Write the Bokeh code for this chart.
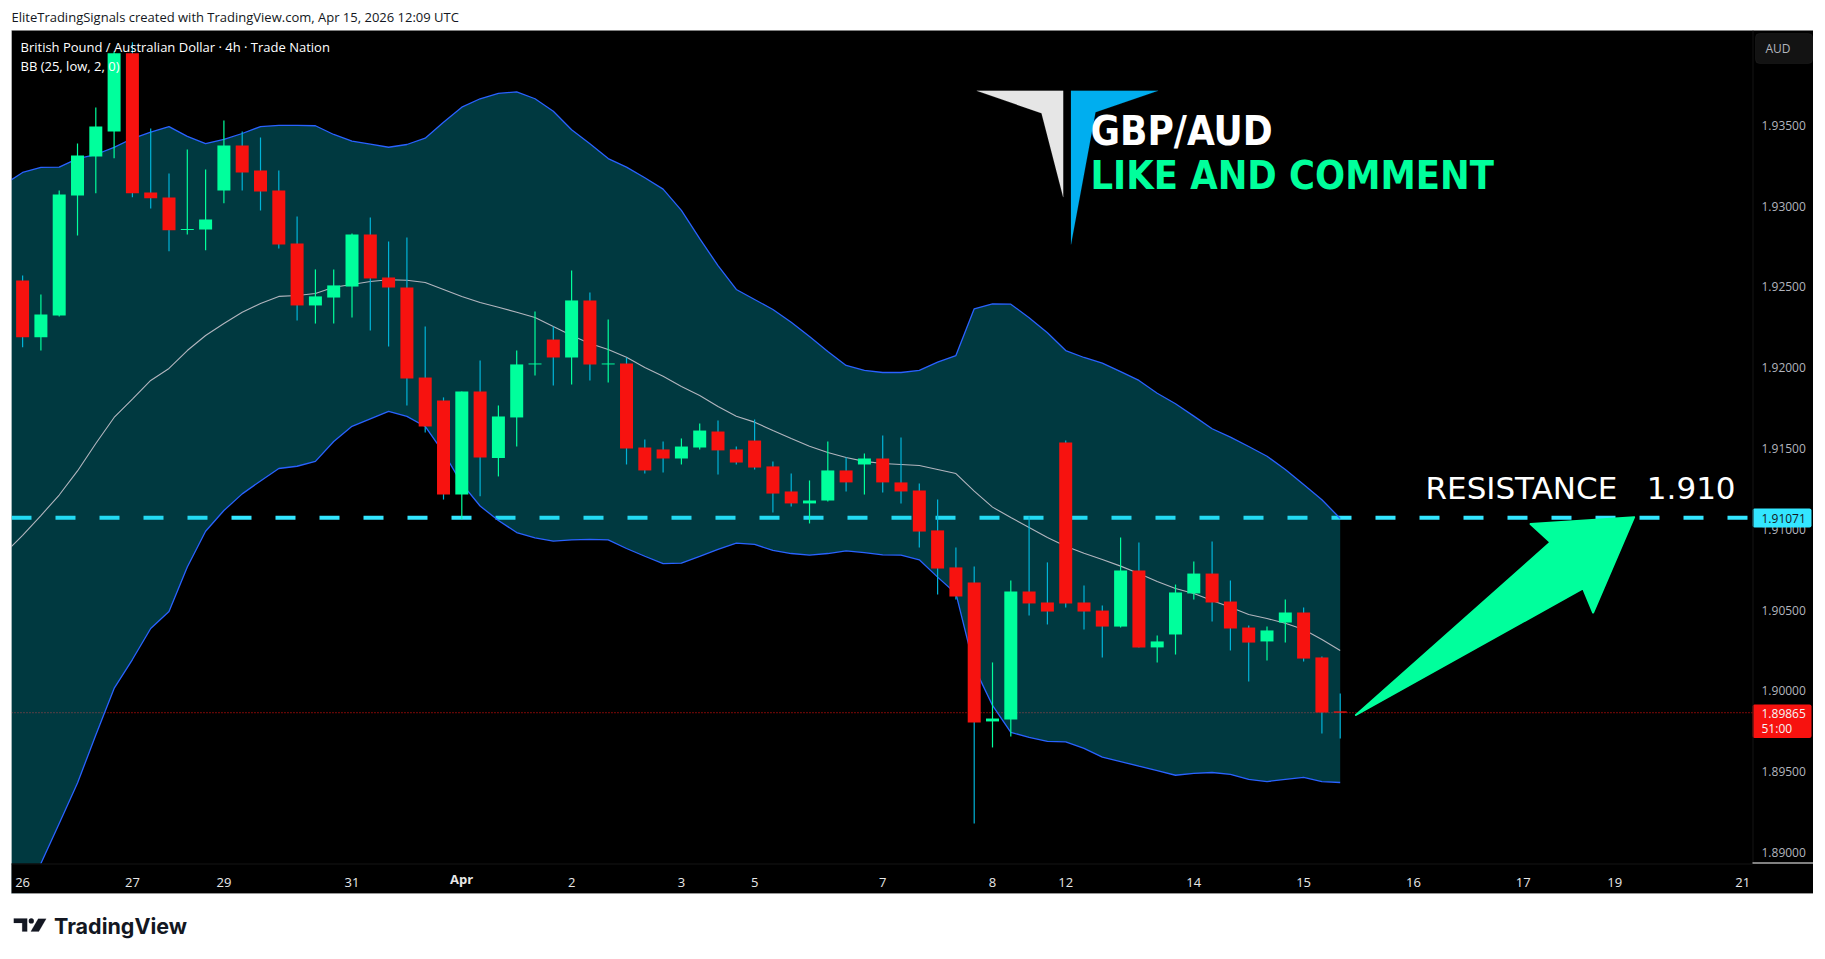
#GBP/AUD 4h candles with bollinger bands, drawn on a dark chart like the tradingview snapshot
from bokeh.plotting import figure
from bokeh.models import Label, BoxAnnotation, PolyAnnotation, FixedTicker, NumeralTickFormatter
from bokeh.embed import file_html
from bokeh.resources import INLINE

# candle values
opens = [1.92540,1.92189,1.92323,1.93066,1.93307,1.93462,1.93946,1.93084,1.93053,1.92852,1.92855,1.93096,1.93375,1.93220,1.93096,1.92768,1.92385,1.92434,1.92502,1.92824,1.92558,1.92496,1.91939,1.91797,1.91215,1.91853,1.91441,1.91692,1.92020,1.92174,1.92063,1.92416,1.92020,1.92026,1.91506,1.91494,1.91438,1.91506,1.91605,1.91494,1.91549,1.91389,1.91234,1.91160,1.91178,1.91364,1.91401,1.91438,1.91290,1.91240,1.90993,1.90764,1.90671,1.89811,1.89823,1.90615,1.90547,1.91537,1.90547,1.90497,1.90398,1.90745,1.90269,1.90349,1.90603,1.90726,1.90553,1.90392,1.90306,1.90423,1.90485,1.90207,1.89873]
highs = [1.92570,1.92453,1.93096,1.93387,1.93610,1.93957,1.94014,1.93480,1.93202,1.93350,1.93226,1.93530,1.93462,1.93424,1.93220,1.92936,1.92608,1.92608,1.92830,1.92929,1.92781,1.92806,1.92255,1.91816,1.91853,1.92044,1.91766,1.92106,1.92348,1.92255,1.92601,1.92465,1.92298,1.92061,1.91556,1.91543,1.91562,1.91655,1.91673,1.91512,1.91679,1.91420,1.91345,1.91302,1.91543,1.91444,1.91469,1.91580,1.91568,1.91283,1.91184,1.90887,1.90770,1.90176,1.90683,1.91079,1.90795,1.91549,1.90652,1.90528,1.90949,1.90918,1.90343,1.90658,1.90801,1.90924,1.90683,1.90405,1.90398,1.90566,1.90516,1.90213,1.89984]
lows = [1.92127,1.92106,1.92317,1.92818,1.93080,1.93296,1.93055,1.92985,1.92721,1.92824,1.92727,1.93018,1.93096,1.92973,1.92738,1.92292,1.92273,1.92273,1.92311,1.92230,1.92131,1.91766,1.91599,1.91184,1.91064,1.91205,1.91327,1.91512,1.91952,1.91890,1.91896,1.91921,1.91908,1.91401,1.91345,1.91351,1.91401,1.91494,1.91339,1.91401,1.91370,1.91104,1.91141,1.91036,1.91172,1.91234,1.91215,1.91228,1.91160,1.90887,1.90596,1.90566,1.89179,1.89650,1.89718,1.90467,1.90411,1.90516,1.90380,1.90207,1.90392,1.90269,1.90176,1.90225,1.90566,1.90429,1.90250,1.90058,1.90188,1.90299,1.90182,1.89736,1.89705]
closes = [1.92189,1.92329,1.93072,1.93313,1.93492,1.93946,1.93080,1.93049,1.92851,1.92858,1.92917,1.93375,1.93208,1.93090,1.92762,1.92385,1.92441,1.92509,1.92824,1.92552,1.92496,1.91933,1.91636,1.91215,1.91853,1.91444,1.91698,1.92020,1.92026,1.92063,1.92416,1.92020,1.92026,1.91500,1.91364,1.91438,1.91512,1.91611,1.91488,1.91413,1.91382,1.91221,1.91160,1.91178,1.91364,1.91290,1.91438,1.91290,1.91234,1.90986,1.90757,1.90584,1.89804,1.89829,1.90615,1.90541,1.90491,1.90541,1.90491,1.90398,1.90745,1.90269,1.90306,1.90609,1.90726,1.90547,1.90386,1.90299,1.90374,1.90485,1.90200,1.89866,1.89865]

# bollinger bands, these start one bar before the first candle
bb_upper = [1.93134,1.93208,1.93239,1.93241,1.93294,1.93319,1.93363,1.93418,1.93457,1.93492,1.93431,1.93387,1.93412,1.93449,1.93492,1.93499,1.93499,1.93497,1.93443,1.93402,1.93383,1.93364,1.93381,1.93420,1.93519,1.93612,1.93664,1.93697,1.93707,1.93664,1.93587,1.93472,1.93385,1.93294,1.93241,1.93175,1.93105,1.92973,1.92798,1.92632,1.92484,1.92422,1.92360,1.92281,1.92193,1.92100,1.92014,1.91983,1.91970,1.91970,1.91983,1.92034,1.92075,1.92364,1.92395,1.92393,1.92309,1.92216,1.92106,1.92063,1.92028,1.91976,1.91921,1.91842,1.91777,1.91700,1.91622,1.91570,1.91512,1.91452,1.91370,1.91277,1.91183,1.91067]
bb_mid = [1.90850,1.90962,1.91085,1.91212,1.91361,1.91531,1.91692,1.91806,1.91921,1.91995,1.92106,1.92199,1.92273,1.92343,1.92397,1.92441,1.92447,1.92459,1.92498,1.92515,1.92533,1.92544,1.92541,1.92527,1.92484,1.92441,1.92403,1.92374,1.92343,1.92311,1.92255,1.92199,1.92150,1.92113,1.92065,1.92001,1.91947,1.91884,1.91828,1.91760,1.91700,1.91663,1.91611,1.91562,1.91514,1.91475,1.91444,1.91420,1.91407,1.91401,1.91395,1.91370,1.91345,1.91236,1.91137,1.91073,1.91011,1.90949,1.90895,1.90852,1.90813,1.90772,1.90726,1.90677,1.90634,1.90603,1.90559,1.90517,1.90473,1.90448,1.90418,1.90380,1.90318,1.90250]
bb_lower = [1.88431,1.88678,1.88932,1.89179,1.89430,1.89727,1.90015,1.90194,1.90386,1.90491,1.90767,1.90988,1.91116,1.91219,1.91299,1.91376,1.91390,1.91420,1.91543,1.91637,1.91683,1.91729,1.91699,1.91636,1.91475,1.91283,1.91144,1.91054,1.90980,1.90947,1.90927,1.90934,1.90937,1.90934,1.90881,1.90833,1.90788,1.90790,1.90832,1.90875,1.90914,1.90906,1.90869,1.90850,1.90840,1.90850,1.90867,1.90856,1.90842,1.90840,1.90811,1.90704,1.90603,1.90147,1.89910,1.89743,1.89713,1.89687,1.89685,1.89644,1.89590,1.89563,1.89534,1.89507,1.89478,1.89489,1.89495,1.89483,1.89452,1.89439,1.89452,1.89465,1.89439,1.89433]

# axis ticks
price_ticks = [1.89,1.895,1.90,1.905,1.91,1.915,1.92,1.925,1.93,1.935]
date_ticks = [0,6,11,18,30,36,40,47,53,57,64,70,76,82,87,94]
date_labels = ["26","27","29","31","2","3","5","7","8","12","14","15","16","17","19","21"]

resistance = 1.91071
last_price = 1.89865
line_ends = [-0.607, 94.53]

# arrow from the last price up to the resistance line (bar index, price)
arrow_x = [72.86,85.27,85.82,88.06,82.40,83.49]
arrow_y = [1.89851,1.90634,1.90485,1.91075,1.91032,1.90919]

UP = "#00FF9C"
DOWN = "#F7120F"
UP_WICK = "#00FF9C"
DOWN_WICK = "#00B4D8"
DASH = "#33E6FF"

# the frame fills the page so the texts round the chart are not cut off,
# the black chart panel is a box inside it
p = figure(frame_width=1813, frame_height=953, x_range=(-1.208, 97.863), y_range=(1.88375, 1.94272),
           y_axis_location="right", toolbar_location=None, output_backend="svg",
           min_border_left=0, min_border_top=0, min_border_right=0, min_border_bottom=0,
           background_fill_color="white", border_fill_color="white", outline_line_color=None)
p.grid.visible = False

p.xaxis.ticker = FixedTicker(ticks=date_ticks)
p.xaxis.major_label_overrides = dict(zip(date_ticks, date_labels))
p.xaxis.major_label_text_color = "#E8E8E8"
p.xaxis.major_label_text_font = "Open Sans"
p.xaxis.major_label_text_font_size = "13px"
p.xaxis.major_label_standoff = -82
p.xaxis.axis_line_color = None
p.xaxis.major_tick_line_color = None
p.xaxis.minor_tick_line_color = None
p.xaxis.level = "overlay"

p.yaxis.ticker = FixedTicker(ticks=price_ticks)
p.yaxis.formatter = NumeralTickFormatter(format="0.00000")
p.yaxis.major_label_text_color = "#B2B5BE"
p.yaxis.major_label_text_font = "Open Sans"
p.yaxis.major_label_text_font_size = "12px"
p.yaxis.major_label_standoff = -58
p.yaxis.axis_line_color = None
p.yaxis.major_tick_line_color = None
p.yaxis.minor_tick_line_color = None


def box(left, top, right, bottom, fill="black", line=None, level="annotation", radius=0, fill_alpha=1):
    p.add_layout(BoxAnnotation(left=left, right=right, top=top, bottom=bottom,
                               left_units="canvas", right_units="canvas", top_units="canvas", bottom_units="canvas",
                               fill_color=fill, fill_alpha=fill_alpha, line_color=line, level=level,
                               border_radius=radius, editable=False))


def text(s, x, y, size, color="white", font="Open Sans", style="normal"):
    p.add_layout(Label(x=x, y=y, x_units="canvas", y_units="canvas", text=s,
                       text_font_size=size, text_color=color, text_font=font, text_font_style=style,
                       text_baseline="middle", text_align="left"))


def poly(xs, ys, color):
    p.add_layout(PolyAnnotation(xs=xs, ys=ys, xs_units="canvas", ys_units="canvas",
                                fill_color=color, fill_alpha=1, line_color=color, line_width=0.5))


# chart panel
box(11, 30, 1813, 893, level="image")

# price lines
p.line(line_ends, [resistance, resistance], line_color=DASH, line_width=4, line_dash="20 24", level="underlay")
p.line(line_ends, [last_price, last_price], line_color=DOWN, line_width=1, line_dash="1 2", level="underlay")

# bollinger
bb_x = list(range(-1, len(opens)))
p.varea(bb_x, bb_lower, bb_upper, fill_color="#00BCD4", fill_alpha=0.3)
p.line(bb_x, bb_upper, line_color="#2962FF", line_width=1.3)
p.line(bb_x, bb_lower, line_color="#2962FF", line_width=1.3)
p.line(bb_x, bb_mid, line_color="#B2B5BE", line_width=1.1)

# candles
idx = list(range(len(opens)))
rising = [c >= o for o, c in zip(opens, closes)]
p.segment(idx, highs, idx, lows, line_width=1.2,
          line_color=[UP_WICK if r else DOWN_WICK for r in rising])
p.vbar(idx, 0.71, [max(o, c) for o, c in zip(opens, closes)], [min(o, c) for o, c in zip(opens, closes)],
       fill_color=[UP if r else DOWN for r in rising], line_color=None)

# big arrow
p.patch(arrow_x, arrow_y, fill_color=UP, line_color=UP, line_width=2, line_join="round")

# cut the band off at the panel edges
box(0, 0, 11, 953, fill="white")
box(11, 863, 1813, 893, fill="black")
box(0, 893, 1813, 953, fill="white")

# logo and headline
poly([976.2, 1062.7, 1062.7, 1041], [90.3, 90.3, 196.7, 112.7], "#E6E6E6")
poly([1070.5, 1157.6, 1095, 1070.5], [90.3, 90.3, 111.7, 244], "#00AEEF")
text("GBP/AUD", 1090, 130.7, "40px", font="DejaVu Sans Condensed", style="bold")
text("LIKE AND COMMENT", 1090, 174.7, "39.4px", color=UP, font="DejaVu Sans Condensed", style="bold")
text("RESISTANCE\u00a0\u00a0\u00a01.910", 1425, 487.7, "31px", font="DejaVu Sans")

# chart legend texts
text("EliteTradingSignals created with TradingView.com, Apr 15, 2026 12:09 UTC", 11, 16.7, "13px", color="#131722")
text("British Pound / Australian Dollar \u00b7 4h \u00b7 Trade Nation", 20, 46.7, "13px")
text("BB (25, low, 2, 0)", 20, 65.7, "13px")
text("Apr", 449.5, 878.5, "13px", color="#E8E8E8", style="bold")

# price scale badges
box(1755, 33, 1812, 63, fill="#131313", line="#2E2E2E", radius=4)
text("AUD", 1765, 48, "12px", color="#B2B5BE")
box(1752, 508, 1811, 527, fill=DASH, radius=2)
text("1.91071", 1761, 518, "12px", color="#131722")
box(1752, 704, 1811, 737.6, fill=DOWN, radius=2)
text("1.89865", 1761, 713, "12px", color="#F5F5F5")
text("51:00", 1761, 728, "12px", color="#F5F5F5")

# edges of the price scale and time scale
box(1752, 30, 1753, 863, fill="#141414")
box(11, 863, 1752, 864, fill="#141414")
box(1752, 862, 1813, 863, fill="white")

# frame
box(11, 30, 1813, 893, fill="white", fill_alpha=0, line="#888888", level="overlay")

# tradingview logo
poly([13.3, 26.7, 26.7, 21.7, 21.7, 13.3], [918, 918, 931, 931, 922.5, 922.5], "#131722")
poly([37.7, 45.7, 38.3, 30.3], [918.3, 918.3, 931, 931], "#131722")
box(28.2, 917.8, 33.4, 923, fill="#131722", radius=3)
text("TradingView", 53.5, 925.5, "21.5px", color="#131722", font="Inter", style="bold")

open("out.html", "w").write(file_html(p, INLINE))
